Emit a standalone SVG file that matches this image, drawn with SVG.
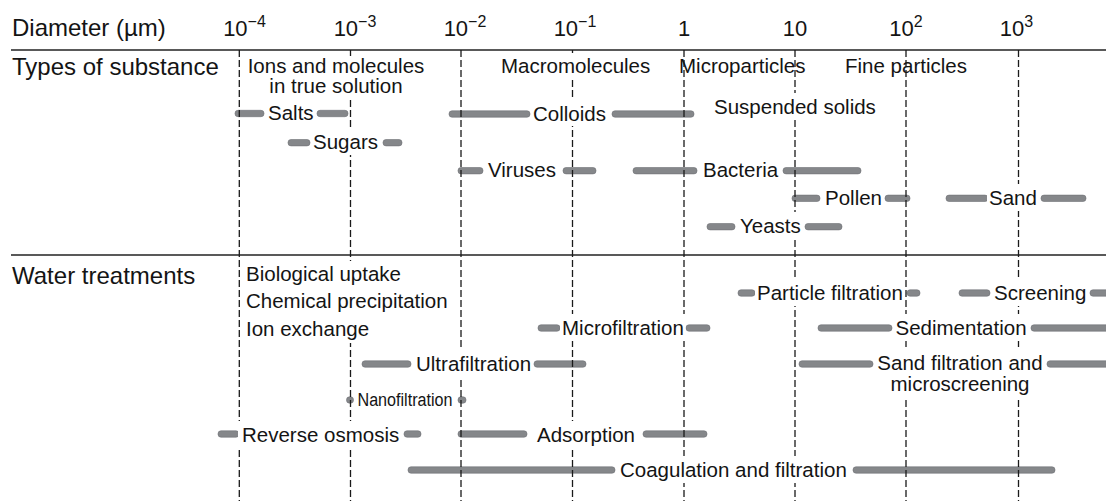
<svg xmlns="http://www.w3.org/2000/svg" width="1106" height="501" viewBox="0 0 1106 501">
  <style>
    text { font-family: "Liberation Sans", Arial, Helvetica, sans-serif; fill: #141414; }
    .hdr { font-size: 24px; }
    .tick { font-size: 22px; text-anchor: middle; }
    .sup { font-size: 16px; }
    .lbl { font-size: 20.5px; }
    .nano { font-size: 18px; }
    .mid { text-anchor: middle; }
    .rule { stroke: #222; stroke-width: 1.4; fill: none; }
    .grid { stroke: #1a1a1a; stroke-width: 1.3; stroke-dasharray: 7 3; fill: none; }
    .bar { fill: #85878a; stroke: #6f7175; stroke-width: 0.6; }
    .mask { fill: #fff; }
  </style>

  <!-- range bars (drawn first so the grid shows through them) -->
  <g id="bars">
    <!-- types of substance -->
    <rect class="bar" x="235" y="110.3" width="29" height="6.4" rx="3"/>
    <rect class="bar" x="317" y="110.3" width="31" height="6.4" rx="3"/>
    <rect class="bar" x="449" y="110.8" width="81" height="6.4" rx="3"/>
    <rect class="bar" x="612" y="110.8" width="82" height="6.4" rx="3"/>
    <rect class="bar" x="288" y="139.5" width="22" height="6.4" rx="3"/>
    <rect class="bar" x="383" y="139.5" width="19" height="6.4" rx="3"/>
    <rect class="bar" x="458" y="167.5" width="25" height="6.4" rx="3"/>
    <rect class="bar" x="563" y="167.5" width="33" height="6.4" rx="3"/>
    <rect class="bar" x="633" y="167.5" width="64" height="6.4" rx="3"/>
    <rect class="bar" x="783" y="167.5" width="78" height="6.4" rx="3"/>
    <rect class="bar" x="792" y="195.1" width="28" height="6.4" rx="3"/>
    <rect class="bar" x="885" y="195.1" width="25" height="6.4" rx="3"/>
    <rect class="bar" x="946" y="195.1" width="42" height="6.4" rx="3"/>
    <rect class="bar" x="1041" y="195.1" width="45" height="6.4" rx="3"/>
    <rect class="bar" x="707" y="223.5" width="28" height="6.4" rx="3"/>
    <rect class="bar" x="805" y="223.5" width="37" height="6.4" rx="3"/>
    <!-- water treatments -->
    <rect class="bar" x="738" y="289.8" width="17" height="6.4" rx="3"/>
    <rect class="bar" x="907" y="289.8" width="13" height="6.4" rx="3"/>
    <rect class="bar" x="959" y="289.8" width="31" height="6.4" rx="3"/>
    <rect class="bar" x="1090" y="289.8" width="20" height="6.4" rx="3"/>
    <rect class="bar" x="538" y="324.8" width="22" height="6.4" rx="3"/>
    <rect class="bar" x="686" y="324.8" width="24" height="6.4" rx="3"/>
    <rect class="bar" x="818" y="324.8" width="74" height="6.4" rx="3"/>
    <rect class="bar" x="1031" y="324.8" width="80" height="6.4" rx="3"/>
    <rect class="bar" x="362" y="360.8" width="49" height="6.4" rx="3"/>
    <rect class="bar" x="534" y="360.8" width="52" height="6.4" rx="3"/>
    <rect class="bar" x="799" y="360.8" width="74" height="6.4" rx="3"/>
    <rect class="bar" x="1047" y="360.8" width="64" height="6.4" rx="3"/>
    <rect class="bar" x="346.5" y="396.8" width="7" height="6.4" rx="3"/>
    <rect class="bar" x="458" y="396.8" width="8" height="6.4" rx="3"/>
    <rect class="bar" x="218" y="430.8" width="21" height="6.4" rx="3"/>
    <rect class="bar" x="404" y="430.8" width="17" height="6.4" rx="3"/>
    <rect class="bar" x="458" y="430.8" width="69" height="6.4" rx="3"/>
    <rect class="bar" x="643" y="430.8" width="64" height="6.4" rx="3"/>
    <rect class="bar" x="408" y="466.8" width="207" height="6.4" rx="3"/>
    <rect class="bar" x="853" y="466.8" width="202" height="6.4" rx="3"/>
  </g>

  <!-- decade grid and section rules -->
  <g id="connectors">
    <line class="rule" x1="11" y1="50" x2="1106" y2="50"/>
    <line class="rule" x1="11" y1="255" x2="1106" y2="255"/>
    <line class="grid" x1="239.3" y1="50" x2="239.3" y2="501"/>
    <line class="grid" x1="350.5" y1="50" x2="350.5" y2="501"/>
    <line class="grid" x1="461" y1="50" x2="461" y2="501"/>
    <line class="grid" x1="572.5" y1="50" x2="572.5" y2="501"/>
    <line class="grid" x1="684" y1="50" x2="684" y2="501"/>
    <line class="grid" x1="795" y1="50" x2="795" y2="501"/>
    <line class="grid" x1="906" y1="50" x2="906" y2="501"/>
    <line class="grid" x1="1018.5" y1="50" x2="1018.5" y2="501"/>
  </g>

  <!-- white backing behind labels that interrupt the grid -->
  <g id="label-backing">
    <rect class="mask" x="245" y="56" width="182" height="43"/>
    <rect class="mask" x="499" y="53" width="155" height="26"/>
    <rect class="mask" x="531" y="100" width="78" height="26"/>
    <rect class="mask" x="712" y="93" width="168" height="27"/>
    <rect class="mask" x="311" y="128" width="70" height="27"/>
    <rect class="mask" x="987" y="184" width="52" height="27"/>
    <rect class="mask" x="738" y="212" width="64" height="27"/>
    <rect class="mask" x="244" y="261" width="210" height="82"/>
    <rect class="mask" x="755" y="279" width="150" height="27"/>
    <rect class="mask" x="992" y="279" width="97" height="27"/>
    <rect class="mask" x="560" y="314" width="125.5" height="27"/>
    <rect class="mask" x="893" y="314" width="136" height="27"/>
    <rect class="mask" x="414" y="350" width="119" height="27"/>
    <rect class="mask" x="875" y="350" width="170" height="50"/>
    <rect class="mask" x="238" y="421" width="164" height="27"/>
    <rect class="mask" x="535" y="421" width="103" height="27"/>
    <rect class="mask" x="618" y="456" width="232" height="27"/>
  </g>

  <g id="axis-labels">
    <text class="hdr" x="12" y="36">Diameter (µm)</text>
    <text class="tick" x="244.5" y="36">10<tspan class="sup" dy="-9">−4</tspan></text>
    <text class="tick" x="355" y="36">10<tspan class="sup" dy="-9">−3</tspan></text>
    <text class="tick" x="465" y="36">10<tspan class="sup" dy="-9">−2</tspan></text>
    <text class="tick" x="575" y="36">10<tspan class="sup" dy="-9">−1</tspan></text>
    <text class="tick" x="684" y="36">1</text>
    <text class="tick" x="795" y="36">10</text>
    <text class="tick" x="906" y="36">10<tspan class="sup" dy="-9">2</tspan></text>
    <text class="tick" x="1016.5" y="36">10<tspan class="sup" dy="-9">3</tspan></text>
  </g>

  <g id="section-substance">
    <text class="hdr" x="12" y="75">Types of substance</text>
  </g>
  <g id="class-ions">
    <text class="lbl mid" x="336" y="72.5">Ions and molecules</text>
    <text class="lbl mid" x="336" y="93">in true solution</text>
  </g>
  <g id="class-macromolecules"><text class="lbl" x="501" y="73">Macromolecules</text></g>
  <g id="class-microparticles"><text class="lbl" x="679" y="73">Microparticles</text></g>
  <g id="class-fine"><text class="lbl" x="845" y="73">Fine particles</text></g>

  <g id="salts"><text class="lbl" x="268" y="120">Salts</text></g>
  <g id="colloids"><text class="lbl" x="533" y="120.5">Colloids</text></g>
  <g id="suspended"><text class="lbl" x="714" y="114">Suspended solids</text></g>
  <g id="sugars"><text class="lbl" x="313" y="149.2">Sugars</text></g>
  <g id="viruses"><text class="lbl" x="488" y="177.2">Viruses</text></g>
  <g id="bacteria"><text class="lbl" x="703" y="177.2">Bacteria</text></g>
  <g id="pollen"><text class="lbl" x="825" y="204.8">Pollen</text></g>
  <g id="sand"><text class="lbl" x="989" y="204.8">Sand</text></g>
  <g id="yeasts"><text class="lbl" x="740" y="233.2">Yeasts</text></g>

  <g id="section-water">
    <text class="hdr" x="12" y="284">Water treatments</text>
  </g>
  <g id="biological"><text class="lbl" x="246" y="280.7">Biological uptake</text></g>
  <g id="chemical"><text class="lbl" x="246" y="308">Chemical precipitation</text></g>
  <g id="ion-exchange"><text class="lbl" x="246" y="335.7">Ion exchange</text></g>
  <g id="particle-filtration"><text class="lbl" x="757" y="299.5">Particle filtration</text></g>
  <g id="screening"><text class="lbl" x="994" y="299.5">Screening</text></g>
  <g id="microfiltration"><text class="lbl" x="562" y="334.5">Microfiltration</text></g>
  <g id="sedimentation"><text class="lbl" x="895.5" y="334.5">Sedimentation</text></g>
  <g id="ultrafiltration"><text class="lbl" x="416" y="370.5">Ultrafiltration</text></g>
  <g id="sand-filtration">
    <text class="lbl mid" x="960" y="370">Sand filtration and</text>
    <text class="lbl mid" x="960" y="391">microscreening</text>
  </g>
  <g id="nanofiltration"><text class="nano" x="357.5" y="406.3" textLength="95" lengthAdjust="spacingAndGlyphs">Nanofiltration</text></g>
  <g id="reverse-osmosis"><text class="lbl" x="242" y="441.5">Reverse osmosis</text></g>
  <g id="adsorption"><text class="lbl" x="537" y="441.5">Adsorption</text></g>
  <g id="coagulation"><text class="lbl" x="620" y="477">Coagulation and filtration</text></g>
</svg>
